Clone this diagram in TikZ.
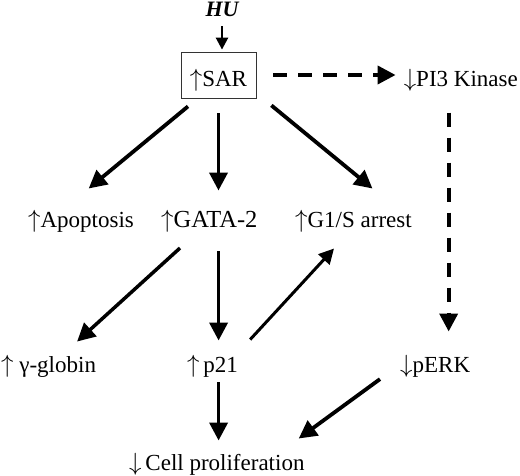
\documentclass[tikz,border=0pt]{standalone}
\usepackage{fontspec}
\setmainfont{Liberation Serif}
\usetikzlibrary{arrows.meta}
\newcommand{\upar}{$\uparrow$}
\newcommand{\dnar}{$\downarrow$}
\begin{document}
\begin{tikzpicture}[
		x = 1pt, y = -1pt, % picture measured in points, top down
		font = \fontsize{23}{27}\selectfont,
		lbl/.style = {inner sep=0pt, anchor=base west},
		arr/.style = {-{Triangle[length=18pt,width=18pt]}, line width=3.8pt},
		thinarr/.style = {-{Triangle[length=15pt,width=15pt]}, line width=3pt},
		darr/.style = {arr, dash pattern=on 14pt off 11pt}
		]
		\useasboundingbox (0,0) rectangle (520,476);
		
		\node[inner sep=0pt, anchor=base, font=\bfseries\itshape\fontsize{22}{26}\selectfont] (hu) at (222,17) {HU};
		\node[draw=black!80, line width=0.8pt, minimum width=75pt, minimum height=46pt, inner sep=0pt, text height=24pt, text depth=0pt] (sar) at (218.5,75) {\upar SAR};
		\node[lbl, anchor=base east] (pik) at (518,87) {\dnar PI3 Kinase};
		
		\node[lbl] (apop) at (28,228) {\upar Apoptosis};
		\node[lbl, font=\fontsize{24.5}{28}\selectfont] (gata) at (161,228) {\upar GATA-2};
		\node[lbl] (g1s) at (295,228) {\upar G1/S arrest};
		
		\node[lbl] (gam) at (1,372) {\upar\ γ-globin};
		\node[lbl] (p21) at (187,372) {\upar\,p21};
		\node[lbl] (perk) at (400,372) {\dnar pERK};
		
		\node[lbl] (cell) at (129,470) {\dnar\,Cell proliferation};
		
		% HU -> SAR
		\draw[-{Triangle[length=12pt,width=12pt]}, line width=2.5pt, shorten <=9pt, shorten >=2pt] (hu.south) -- (hu.south |- sar.north);
		
		% SAR targets
		\draw[arr] ([xshift=-30.5pt,yshift=-8pt]sar.south) -- ([xshift=7.6pt,yshift=22pt]apop.north);
		\draw[arr, shorten <=15pt, shorten >=20pt] (sar.south) -- (sar.south |- gata.north);
		\draw[arr] ([xshift=15pt,yshift=-7pt]sar.south east) -- ([xshift=19pt,yshift=22pt]g1s.north);
		\draw[darr, shorten <=17pt, shorten >=8pt] (sar.east) -- (sar.east -| pik.west);
		\draw[darr, shorten <=20.5pt, shorten >=23pt] ([xshift=13.5pt]perk.north |- pik.south) -- ([xshift=13.5pt]perk.north);
		
		% GATA-2 targets
		\draw[arr, line width=3.5pt] ([xshift=19pt,yshift=-15pt]gata.south west) -- ([xshift=28.5pt,yshift=13pt]gam.north);
		\draw[arr, shorten <=18pt, shorten >=14pt] ([xshift=6pt]p21.north |- gata.south) -- ([xshift=6pt]p21.north);
		\draw[thinarr] ([xshift=12pt,yshift=15pt]p21.north east) -- ([xshift=39pt,yshift=-15.5pt]g1s.south west);
		
		% proliferation
		\draw[arr, shorten <=5pt, shorten >=12pt] ([xshift=6pt]p21.south) -- ([xshift=6pt]p21.south |- cell.north);
		\draw[arr] ([xshift=-20pt,yshift=-2pt]perk.south west) -- ([xshift=-6pt,yshift=14pt]cell.north east);
	\end{tikzpicture}
\end{document}
